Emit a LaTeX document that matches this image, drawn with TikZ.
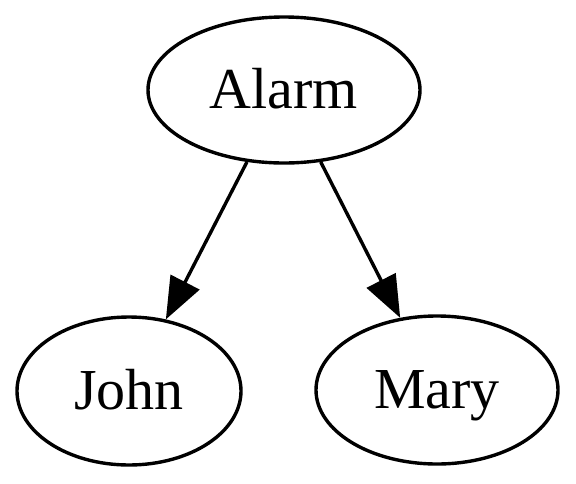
\documentclass[tikz,border=0pt]{standalone}
\usepackage{fontspec}
\setmainfont{Liberation Serif}
\usetikzlibrary{shapes.geometric,arrows.meta}

\begin{document}
\begin{tikzpicture}[x=1pt,y=-1pt,
   var/.style={draw,ellipse,line width=3.4pt,inner sep=0pt,
     text height=40pt,text depth=4pt,
     font=\fontsize{58}{60}\selectfont},
   dep/.style={line width=3.4pt,-{Triangle[length=42pt,width=32pt]}}]
\useasboundingbox (0,0) rectangle (576,483);
\node[var,minimum width=272pt,minimum height=146pt] (alarm) at (284,90) {Alarm};
\node[var,minimum width=224pt,minimum height=148pt] (john) at (129,391) {John};
\node[var,minimum width=242pt,minimum height=148pt] (mary) at (437,390) {Mary};
\draw[dep] (alarm) -- (john);
\draw[dep] (alarm) -- (mary);
\end{tikzpicture}
\end{document}
